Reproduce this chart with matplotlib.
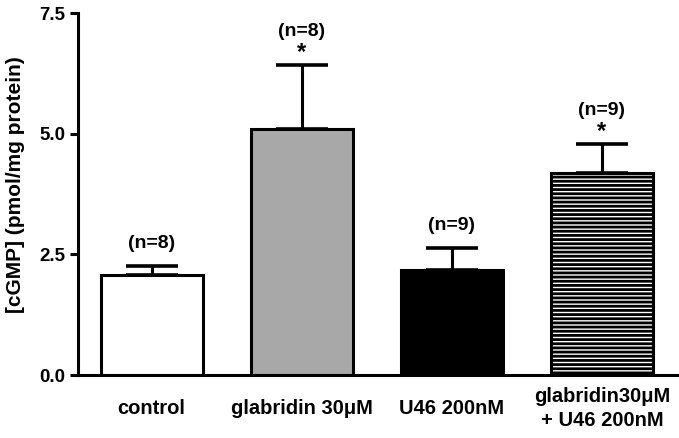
import numpy as np
import matplotlib
matplotlib.use("Agg")
import matplotlib.pyplot as plt

plt.rcParams['font.family'] = ['Liberation Sans', 'DejaVu Sans']
plt.rcParams['font.weight'] = 'bold'
plt.rcParams['hatch.linewidth'] = 2.0

# data
groups = ["control", "glabridin 30\u03bcM", "U46 200nM", "glabridin30\u03bcM\n+ U46 200nM"]
means = [2.07, 5.10, 2.18, 4.18]
sem = [0.19, 1.32, 0.45, 0.61]
n_labels = ["(n=8)", "(n=8)", "(n=9)", "(n=9)"]
significant = [False, True, False, True]

faces = ["white", "#a8a8a8", "black", "white"]
hatches = [None, None, None, "----"]

fig = plt.figure(figsize=(6.79, 4.38), dpi=100)
ax = fig.add_axes([0.1149, 0.1438, 0.8821, 0.8265])

x = np.arange(len(groups))
width = 0.68

for i in range(len(groups)):
    ax.bar(x[i], means[i], width=width, color=faces[i], hatch=hatches[i],
           edgecolor="black", linewidth=2.2, zorder=2)

ax.errorbar(x, means, yerr=[np.zeros(len(sem)), sem], fmt="none", ecolor="black",
            elinewidth=2.2, capsize=19, capthick=2.6, zorder=1)

for i in range(len(groups)):
    top = means[i] + sem[i]
    if significant[i]:
        ax.annotate("*", (x[i], top), xytext=(0, 9), textcoords="offset points",
                    ha="center", va="center", fontsize=17, fontweight="bold")
        ax.annotate(n_labels[i], (x[i], top), xytext=(0, 24), textcoords="offset points",
                    ha="center", va="center", fontsize=14, fontweight="bold")
    else:
        ax.annotate(n_labels[i], (x[i], top), xytext=(0, 16.5), textcoords="offset points",
                    ha="center", va="center", fontsize=14, fontweight="bold")

ax.set_xlim(-0.49, 3.5)
ax.set_ylim(0, 7.5)
ax.set_yticks([0.0, 2.5, 5.0, 7.5])
ax.set_yticklabels(["0.0", "2.5", "5.0", "7.5"])
ax.set_xticks(x)
ax.set_xticklabels(groups, fontsize=14.5, fontweight="bold", va="center", linespacing=1.3)
ax.tick_params(axis="x", length=0, pad=24)
ax.tick_params(axis="y", length=6, width=2.2, labelsize=13.5, pad=3)
ax.set_ylabel("[cGMP] (pmol/mg protein)", fontsize=15, fontweight="bold")
ax.yaxis.set_label_coords(-0.088, 0.525)

for s in ["top", "right"]:
    ax.spines[s].set_visible(False)
for s in ["left", "bottom"]:
    ax.spines[s].set_linewidth(2.2)

fig.savefig("out.png", dpi=100)
